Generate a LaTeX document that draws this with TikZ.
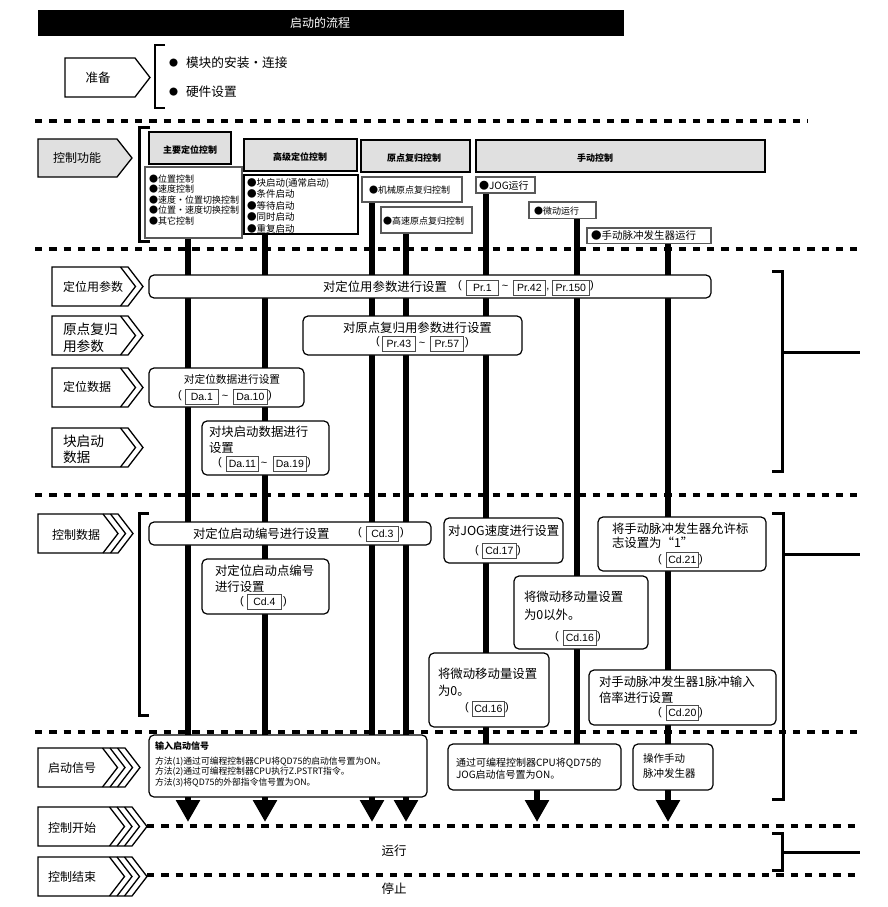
\documentclass[tikz,border=0pt]{standalone}
\usepackage{fontspec}
\setmainfont{Noto Sans CJK SC}
\newfontfamily\arial{Liberation Sans}
\usetikzlibrary{arrows.meta,backgrounds}
\definecolor{hdrgray}{RGB}{224,224,224}
\newcommand\fs[1]{\fontsize{#1}{#1}\selectfont}
\newcommand\bx[6]{\node[#2,anchor=north west,inner sep=0pt,outer sep=0pt,minimum width={(#5-#3)*1pt},minimum height={(#6-#4)*1pt}] (#1) at (#3,#4) {};}
\newcommand\rf[5]{\node[refb,minimum width={(#3-#2)*1pt},anchor=west] (#1) at (#2,#4) {#5};}
\newcommand\chev[6]{%
  \pgfmathsetmacro\chb{#4-15}%
  \pgfmathsetmacro\chm{(#2+#3)/2}%
  \draw[chevline,fill=#6] (#1,#2) -- (\chb,#2) -- (#4,\chm) -- (\chb,#3) -- (#1,#3) -- cycle;%
  \ifnum#5>1
  \foreach \k in {2,...,#5}{%
    \pgfmathsetmacro\cha{\chb-(\k-1)*7.5}%
    \pgfmathsetmacro\chp{#4-(\k-1)*7.5}%
    \draw[chevline] (\cha,#2) -- (\chp,\chm) -- (\cha,#3);}%
  \fi}
\begin{document}
\begin{tikzpicture}[x=1pt,y=-1pt,
 tl/.style={inner sep=0pt,outer sep=0pt,anchor=west},
 tc/.style={inner sep=0pt,outer sep=0pt,anchor=center},
 sepline/.style={line width=4pt,dash pattern=on 7.3pt off 7pt},
 vline/.style={line width=5.5pt},
 varrow/.style={line width=5.5pt,-{Triangle[width=23pt,length=22pt]}},
 chevline/.style={line width=1.3pt,line join=miter},
 hdr/.style={draw=black,line width=1.8pt,fill=hdrgray},
 itm/.style={draw=black!65,line width=1.2pt,fill=white},
 rbox/.style={draw,line width=1.2pt,rounded corners=5pt,fill=white},
 refb/.style={draw=black!70,line width=0.8pt,fill=white,inner sep=0pt,minimum height=15pt,font=\arial\fs{10.5}},
 brk/.style={line width=3pt},
 prn/.style={inner sep=0pt,outer sep=0pt,font=\arial\fs{11}}
]
\useasboundingbox (0,0) rectangle (888,907);
% title
\node[fill=black,anchor=north west,inner sep=0pt,minimum width=586pt,minimum height=26pt] (title) at (38,10) {};
\node[tc,text=white,font=\fs{12}] (titletxt) at (320,23) {启动的流程};
% preparation
\chev{65}{58}{97}{150}{1}{white}
\node[tc,font=\fs{12.5}] (prep) at (98,77.5) {准备};
\draw[brk,line width=2.5pt] (165,45) -- (155,45) -- (155,108) -- (165,108);
\node[tl,font=\fs{9}] (pb1) at (169,63) {●};
\node[tl,font=\fs{12.7}] (pt1) at (186,63) {模块的安装・连接};
\node[tl,font=\fs{9}] (pb2) at (169,92) {●};
\node[tl,font=\fs{12.7}] (pt2) at (186,92) {硬件设置};
% separators
\draw[sepline] (35,121) -- (808,121);
\draw[sepline] (35,249) -- (862,249);
\draw[sepline] (35,495) -- (863,495);
\draw[sepline] (35,732) -- (863,732);
\draw[sepline] (147,826) -- (860,826);
\draw[sepline] (147,875) -- (860,875);
% control functions
\chev{38}{139}{177}{132}{1}{hdrgray}
\node[tc,font=\fs{12}] (cf) at (77,158) {控制功能};
\draw[brk] (150,127) -- (139,127) -- (139,241) -- (150,241);
\draw[hdr] (149,132) -- (231,132) -- (231,164) -- (149,164) -- cycle;
\node[tc,font=\bfseries\fs{9}] (h1t) at (190,150) {主要定位控制};
\draw[hdr] (244,139) -- (357,139) -- (357,171) -- (244,171) -- cycle;
\node[tc,font=\bfseries\fs{9}] (h2t) at (300,157) {高级定位控制};
\draw[hdr] (361,140) -- (470,140) -- (470,172) -- (361,172) -- cycle;
\node[tc,font=\bfseries\fs{9}] (h3t) at (414,158) {原点复归控制};
\draw[hdr] (476,140) -- (765,140) -- (765,172) -- (476,172) -- cycle;
\node[tc,font=\bfseries\fs{9}] (h4t) at (595,158) {手动控制};
\bx{lb1}{itm}{145}{167}{242}{238}
\node[tl,font=\fs{9}] (l11) at (149,179) {●位置控制};
\node[tl,font=\fs{9}] (l12) at (149,189) {●速度控制};
\node[tl,font=\fs{9}] (l13) at (149,200) {●速度・位置切换控制};
\node[tl,font=\fs{9}] (l14) at (149,210) {●位置・速度切换控制};
\node[tl,font=\fs{9}] (l15) at (149,221) {●其它控制};
\bx{lb2}{itm,draw=black}{244}{175}{358}{234}
\node[tl,font=\fs{9.5}] (l21) at (247,183) {●块启动(通常启动)};
\node[tl,font=\fs{9.5}] (l22) at (247,194) {●条件启动};
\node[tl,font=\fs{9.5}] (l23) at (247,206) {●等待启动};
\node[tl,font=\fs{9.5}] (l24) at (247,217) {●同时启动};
\node[tl,font=\fs{9.5}] (l25) at (247,229) {●重复启动};
\bx{ib1}{itm}{362}{177}{462}{202}
\node[tl,font=\fs{9}] (ib1t) at (369,190) {●机械原点复归控制};
\bx{ib2}{itm}{381}{207}{472}{233}
\node[tl,font=\fs{9}] (ib2t) at (383,221) {●高速原点复归控制};
\bx{ib3}{itm}{476}{177}{535}{193}
\node[tl,font=\fs{10}] (ib3t) at (479,186) {●JOG运行};
\bx{ib4}{itm}{529}{202}{596}{218.5}
\node[tl,font=\fs{9}] (ib4t) at (534,211) {●微动运行};
\bx{ib5}{itm}{587}{228}{711}{243.5}
\node[tl,font=\fs{10.5}] (ib5t) at (591,236) {●手动脉冲发生器运行};
% parameter labels
\chev{52}{267}{306}{143}{2}{white}
\node[tl,font=\fs{12}] (lp1) at (63,287) {定位用参数};
\chev{52}{316}{355}{143}{2}{white}
\node[tl,font=\fs{13.7}] (lp2a) at (63,329) {原点复归};
\node[tl,font=\fs{13.7}] (lp2b) at (63,346) {用参数};
\chev{52}{368}{407}{143}{2}{white}
\node[tl,font=\fs{12}] (lp3) at (63,387) {定位数据};
\chev{52}{428}{467}{143}{2}{white}
\node[tl,font=\fs{13.7}] (lp4a) at (63,441) {块启动};
\node[tl,font=\fs{13.7}] (lp4b) at (63,457) {数据};
% parameter boxes
\bx{p1}{rbox}{149}{275}{711}{298}
\node[tl,font=\fs{12.4}] (p1t) at (323,287) {对定位用参数进行设置};
\node[prn] (p1a) at (460,286) {(};
\rf{pr1}{466}{498}{287.5}{Pr.1}
\node[prn] (p1b) at (505,287) {\textasciitilde};
\rf{pr42}{513}{545}{287.5}{Pr.42}
\node[prn] (p1c) at (548,290) {,};
\rf{pr150}{552}{589}{287.5}{Pr.150}
\node[prn] (p1d) at (592,286) {)};
\bx{p2}{rbox}{303}{316}{522}{355}
\node[tl,font=\fs{12.4}] (p2t) at (343,328) {对原点复归用参数进行设置};
\node[prn] (p2a) at (378,342) {(};
\rf{pr43}{382}{415}{343.5}{Pr.43}
\node[prn] (p2b) at (422,344) {\textasciitilde};
\rf{pr57}{430}{463}{343.5}{Pr.57}
\node[prn] (p2c) at (467,343) {)};
\bx{p3}{rbox}{149}{368}{304}{407}
\node[tc,font=\fs{10.7}] (p3t) at (232,379) {对定位数据进行设置};
\node[prn] (p3a) at (180,396) {(};
\rf{da1}{185}{218}{396.5}{Da.1}
\node[prn] (p3b) at (225,397) {\textasciitilde};
\rf{da10}{233}{267}{396.5}{Da.10}
\node[prn] (p3c) at (270,396) {)};
\bx{p4}{rbox}{202}{421}{329}{475}
\node[tl,font=\fs{12.4}] (p4t1) at (209,432) {对块启动数据进行};
\node[tl,font=\fs{12.4}] (p4t2) at (209,448) {设置};
\node[prn] (p4a) at (220,463) {(};
\rf{da11}{226}{258}{463.5}{Da.11}
\node[prn] (p4b) at (264,464) {\textasciitilde};
\rf{da19}{273}{306}{463.5}{Da.19}
\node[prn] (p4c) at (309,463) {)};
\draw[brk] (772,271) -- (782,271) -- (782,471) -- (772,471);
\draw[brk] (782,352) -- (860,352);
% control data
\chev{38}{514}{553}{133}{3}{white}
\node[tl,font=\fs{12}] (lcd) at (52,535) {控制数据};
\draw[brk] (149,513) -- (139,513) -- (139,715) -- (149,715);
\bx{c1}{rbox}{149}{522}{431}{545}
\node[tl,font=\fs{12.4}] (c1t) at (193,534) {对定位启动编号进行设置};
\node[prn] (c1a) at (360,533) {(};
\rf{cd3}{366}{398}{534}{Cd.3}
\node[prn] (c1b) at (402,533) {)};
\bx{c2}{rbox}{202}{559}{329}{614}
\node[tl,font=\fs{12.4}] (c2t1) at (215,571) {对定位启动点编号};
\node[tl,font=\fs{12.4}] (c2t2) at (215,587) {进行设置};
\node[prn] (c2a) at (242,602) {(};
\rf{cd4}{247}{281}{602}{Cd.4}
\node[prn] (c2b) at (285,602) {)};
\bx{c3}{rbox}{444}{518}{563}{563}
\node[tl,font=\fs{12.4}] (c3t) at (448,531) {对JOG速度进行设置};
\node[prn] (c3a) at (477,551) {(};
\rf{cd17}{482}{516}{551}{Cd.17}
\node[prn] (c3b) at (519,551) {)};
\bx{c4}{rbox}{514}{576}{648}{649}
\node[tl,font=\fs{12.4}] (c4t1) at (524,597) {将微动移动量设置};
\node[tl,font=\fs{12.4}] (c4t2) at (524,615) {为0以外。};
\node[prn] (c4a) at (557,637) {(};
\rf{cd16a}{563}{596}{638}{Cd.16}
\node[prn] (c4b) at (599,637) {)};
\bx{c5}{rbox}{598}{517}{766}{571}
\node[tl,font=\fs{12.4}] (c5t1) at (612,529) {将手动脉冲发生器允许标};
\node[tl,font=\fs{12.4}] (c5t2) at (612,543) {志设置为“1”};
\node[prn] (c5a) at (660,560) {(};
\rf{cd21}{666}{698}{560}{Cd.21}
\node[prn] (c5b) at (701,560) {)};
\bx{c6}{rbox}{429}{653}{549}{727}
\node[tl,font=\fs{12.4}] (c6t1) at (438,674) {将微动移动量设置};
\node[tl,font=\fs{12.4}] (c6t2) at (438,691) {为0。};
\node[prn] (c6a) at (467,708) {(};
\rf{cd16b}{472}{504}{708.5}{Cd.16}
\node[prn] (c6b) at (507,708) {)};
\bx{c7}{rbox}{589}{670}{776}{725}
\node[tl,font=\fs{12.4}] (c7t1) at (599,682) {对手动脉冲发生器1脉冲输入};
\node[tl,font=\fs{12.4}] (c7t2) at (599,698) {倍率进行设置};
\node[prn] (c7a) at (660,713) {(};
\rf{cd20}{666}{698}{713}{Cd.20}
\node[prn] (c7b) at (701,713) {)};
\draw[brk] (772,513) -- (783,513) -- (783,799) -- (772,799);
\draw[brk] (783,554) -- (860,554);
% start signal
\chev{38}{748}{787}{140}{4}{white}
\node[tl,font=\fs{12}] (lss) at (48,768) {启动信号};
\chev{38}{807}{846}{147}{4}{white}
\node[tl,font=\fs{12}] (lcs) at (48,828) {控制开始};
\chev{38}{857}{896}{147}{4}{white}
\node[tl,font=\fs{12}] (lce) at (48,877) {控制结束};
\bx{s1}{rbox}{149}{735}{427}{797}
\node[tl,font=\bfseries\fs{9}] (s1t0) at (155,746) {输入启动信号};
\node[tl,font=\fs{8.8}] (s1t1) at (155,762) {方法(1)通过可编程控制器CPU将QD75的启动信号置为ON。};
\node[tl,font=\fs{8.8}] (s1t2) at (155,772) {方法(2)通过可编程控制器CPU执行Z.PSTRT指令。};
\node[tl,font=\fs{8.8}] (s1t3) at (155,783) {方法(3)将QD75的外部指令信号置为ON。};
\bx{s2}{rbox}{448}{744}{621}{790}
\node[tl,font=\fs{10}] (s2t1) at (456,763) {通过可编程控制器CPU将QD75的};
\node[tl,font=\fs{10}] (s2t2) at (456,775) {JOG启动信号置为ON。};
\bx{s3}{rbox}{633}{744}{713}{790}
\node[tl,font=\fs{10.5}] (s3t1) at (643,759) {操作手动};
\node[tl,font=\fs{10.5}] (s3t2) at (643,773) {脉冲发生器};
\node[tc,font=\fs{12.5}] (run) at (394,851) {运行};
\node[tc,font=\fs{12.5}] (stop) at (394,889) {停止};
\draw[brk] (772,833) -- (782,833) -- (782,870) -- (772,870);
\draw[brk] (782,852) -- (860,852);
% flow lines
\begin{scope}[on background layer]
\draw[vline] (188,0 |- lb1.south) -- (188,0 |- s1.north);
\draw[vline] (265,0 |- lb2.south) -- (265,0 |- s1.north);
\draw[vline] (372,0 |- ib1.south) -- (372,0 |- s1.north);
\draw[vline] (406,0 |- ib2.south) -- (406,0 |- s1.north);
\draw[vline] (486,0 |- ib3.south) -- (486,0 |- s2.north);
\draw[vline] (577,0 |- ib4.south) -- (577,0 |- s2.north);
\draw[vline] (668,0 |- ib5.south) -- (668,0 |- s3.north);
\end{scope}
\coordinate (cst) at (0,822);
\draw[varrow] (188,0 |- s1.south) -- (188,0 |- cst);
\draw[varrow] (265,0 |- s1.south) -- (265,0 |- cst);
\draw[varrow] (372,0 |- s1.south) -- (372,0 |- cst);
\draw[varrow] (406,0 |- s1.south) -- (406,0 |- cst);
\draw[varrow] (537,0 |- s2.south) -- (537,0 |- cst);
\draw[varrow] (668,0 |- s3.south) -- (668,0 |- cst);
\end{tikzpicture}
\end{document}
